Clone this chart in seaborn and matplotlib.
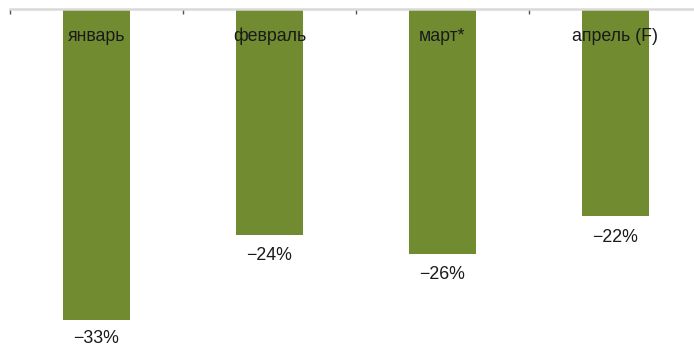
import matplotlib
matplotlib.use("Agg")
import matplotlib.pyplot as plt
import seaborn as sns
import pandas as pd

categories = ["январь", "февраль", "март*", "апрель (F)"]
values = [-33, -24, -26, -22]
value_labels = ["\u221233%", "\u221224%", "\u221226%", "\u221222%"]

sns.set_style("white")
plt.rcParams['font.family'] = ['Liberation Sans', 'DejaVu Sans']

df = pd.DataFrame({"cat": categories, "val": values})

fig = plt.figure(figsize=(6.94, 3.46), dpi=100)
ax = fig.add_axes([10/694, 0, 692/694, 1 - 9/346])
sns.barplot(data=df, x="cat", y="val", color="#718b30", saturation=1,
            width=0.39, ax=ax, edgecolor="none")

ax.set_xlim(-0.5, 3.5)
ymin = -337 / 9.42
ax.set_ylim(ymin, 0)

for s in ["left", "right", "bottom"]:
    ax.spines[s].set_visible(False)
ax.spines["top"].set_color("#d9d9d9")
ax.spines["top"].set_linewidth(1.8)

ax.set_yticks([])
ax.set_xlabel("")
ax.set_ylabel("")
ax.xaxis.set_ticks_position("top")
ax.set_xticks([-0.5, 0.5, 1.5, 2.5])
ax.set_xticklabels([])
ax.tick_params(axis="x", direction="in", length=3.5, width=1, color="#555555", top=True, bottom=False)

for i, (c, v, lab) in enumerate(zip(categories, values, value_labels)):
    ax.annotate(c, (i, 0), xytext=(0, -19.5), textcoords="offset points",
                ha="center", va="center", fontsize=12.8, color="#1a1a1a")
    off = -15 if i != 0 else -13.5
    ax.annotate(lab, (i, v), xytext=(0, off), textcoords="offset points",
                ha="center", va="center", fontsize=12.8, color="#1a1a1a")

fig.savefig("out.png", dpi=100)
